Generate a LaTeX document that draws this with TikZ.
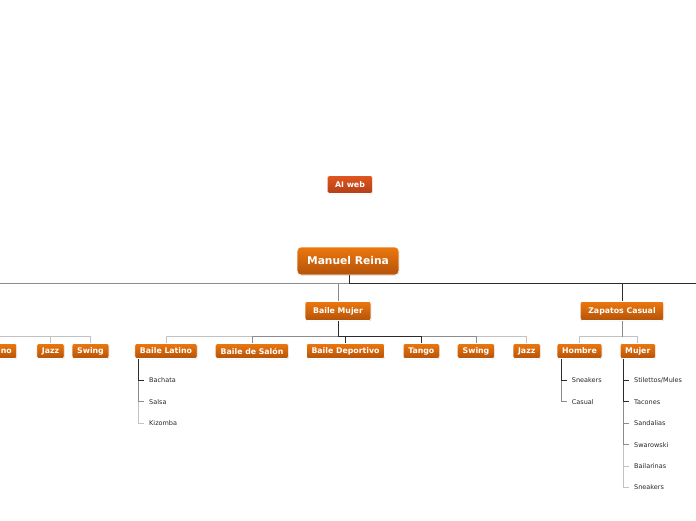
\documentclass[tikz,border=0pt]{standalone}
\usepackage{fontspec}
\setmainfont{DejaVu Sans}
\usepackage{tikz}
\usetikzlibrary{positioning,shadows}
\definecolor{mapamber}{HTML}{EC770E}
\definecolor{mapbrown}{HTML}{B4530A}
\definecolor{mapred}{HTML}{E0561F}
\definecolor{maprust}{HTML}{B23F18}
\definecolor{linkdark}{HTML}{2B2B2B}
\definecolor{linkgray}{HTML}{8C8C8C}
\definecolor{linklight}{HTML}{C2C2C2}
\tikzset{
  mapbox/.style={
    rounded corners=2pt,
    draw=white,
    line width=0.6pt,
    top color=mapamber,
    bottom color=mapbrown,
    text=white,
    inner ysep=0pt,
    font=\bfseries\fontsize{7.8}{9}\selectfont,
    drop shadow={shadow xshift=0.5pt, shadow yshift=-0.6pt, opacity=0.3, fill=black!50}
  },
  rootbox/.style={
    mapbox,
    rounded corners=4pt,
    minimum height=28pt,
    inner xsep=10pt,
    font=\bfseries\fontsize{10.7}{12}\selectfont
  },
  topicbox/.style={mapbox, minimum height=19pt, inner xsep=8pt},
  itembox/.style={mapbox, minimum height=15pt, inner xsep=5pt},
  webbox/.style={mapbox, top color=mapred, bottom color=maprust, minimum height=18pt, inner xsep=7.5pt},
  leaf/.style={
    anchor=west,
    inner xsep=5pt,
    inner ysep=1pt,
    text=black!85,
    font=\fontsize{6.5}{8}\selectfont
  },
  darklink/.style={draw=linkdark, line width=1pt},
  graylink/.style={draw=linkgray, line width=1pt},
  lightlink/.style={draw=linklight, line width=0.9pt}
}

\begin{document}
\begin{tikzpicture}[x=1pt, y=-1pt]
\useasboundingbox (0,0) rectangle (696,520);
\clip (0,0) rectangle (696,520);

% floating topic
\node[webbox] (aiweb) at (350,184.5) {AI web};

% central topic and main bus
\node[rootbox] (root) at (348,261) {Manuel Reina};
\coordinate (hub) at (349,283);
\coordinate (westend) at (-10,283);
\coordinate (eastend) at (706,283);

\node[topicbox] (mujer) at (338,311) {Baile Mujer};
\node[topicbox] (casual) at (622,311) {Zapatos Casual};

% Baile Mujer
\node[itembox] (latino) at (166,351) {Baile Latino};
\node[itembox] (salon) at (252,351) {Baile de Salón};
\node[itembox] (deportivo) at (345.5,351) {Baile Deportivo};
\node[itembox] (tango) at (421.3,351) {Tango};
\node[itembox] (swing) at (476,351) {Swing};
\node[itembox] (jazz) at (526.7,351) {Jazz};

% Zapatos Casual
\node[itembox] (hombre) at (579.5,351) {Hombre};
\node[itembox] (mujerz) at (637.8,351) {Mujer};

% branch cut off at the left edge
\node[itembox, text width=40pt, align=right, anchor=east] (lino) at (17,351) {ino};
\node[itembox] (ljazz) at (50.5,351) {Jazz};
\node[itembox] (lswing) at (90.5,351) {Swing};
\coordinate (lbus) at (-10,336);

% leaves
\node[leaf] (bachata) at (144,380.5) {Bachata};
\node[below=21.4pt of bachata.west, leaf] (salsa) {Salsa};
\node[below=21.4pt of salsa.west, leaf] (kizomba) {Kizomba};

\node[leaf] (sneakersh) at (566.7,380.5) {Sneakers};
\node[below=21.4pt of sneakersh.west, leaf] (casualh) {Casual};

\node[leaf] (stilettos) at (629,380.5) {Stilettos/Mules};
\node[below=21.4pt of stilettos.west, leaf] (tacones) {Tacones};
\node[below=21.4pt of tacones.west, leaf] (sandalias) {Sandalias};
\node[below=21.4pt of sandalias.west, leaf] (swarowski) {Swarowski};
\node[below=21.4pt of swarowski.west, leaf] (bailarinas) {Bailarinas};
\node[below=21.4pt of bailarinas.west, leaf] (sneakersm) {Sneakers};

% connectors
\draw[graylink] (hub) -- (westend);
\draw[graylink] (hub) -| (mujer.north);
\draw[darklink] (root.south -| hub) -- (hub) -| (casual.north);
\draw[darklink] (hub) -- (eastend);

\draw[lightlink] (mujer.south) -- ++(0,16) -| (latino.north);
\draw[lightlink] (mujer.south) -- ++(0,16) -| (jazz.north);
\draw[graylink] (mujer.south) -- ++(0,16) -| (salon.north);
\draw[graylink] (mujer.south) -- ++(0,16) -| (swing.north);
\draw[darklink] (mujer.south) -- ++(0,16) -| (deportivo.north);
\draw[darklink] (mujer.south) -- ++(0,16) -| (tango.north);

\draw[lightlink] (casual.south) -- ++(0,16) -| (hombre.north);
\draw[lightlink] (casual.south) -- ++(0,16) -| (mujerz.north);
\draw[graylink] (casual.south) -- ++(0,16);

\draw[lightlink] (lbus) -| (ljazz.north);
\draw[lightlink] (lbus) -| (lswing.north);

\draw[lightlink] ([xshift=4pt]latino.south west) |- (kizomba.west);
\draw[graylink] ([xshift=4pt]latino.south west) |- (salsa.west);
\draw[darklink] ([xshift=4pt]latino.south west) |- (bachata.west);

\draw[graylink] ([xshift=4.5pt]hombre.south west) |- (casualh.west);
\draw[darklink] ([xshift=4.5pt]hombre.south west) |- (sneakersh.west);

\draw[lightlink] ([xshift=3.5pt]mujerz.south west) |- (sneakersm.west);
\draw[lightlink] ([xshift=3.5pt]mujerz.south west) |- (bailarinas.west);
\draw[graylink] ([xshift=3.5pt]mujerz.south west) |- (swarowski.west);
\draw[graylink] ([xshift=3.5pt]mujerz.south west) |- (sandalias.west);
\draw[darklink] ([xshift=3.5pt]mujerz.south west) |- (tacones.west);
\draw[darklink] ([xshift=3.5pt]mujerz.south west) |- (stilettos.west);
\end{tikzpicture}
\end{document}
